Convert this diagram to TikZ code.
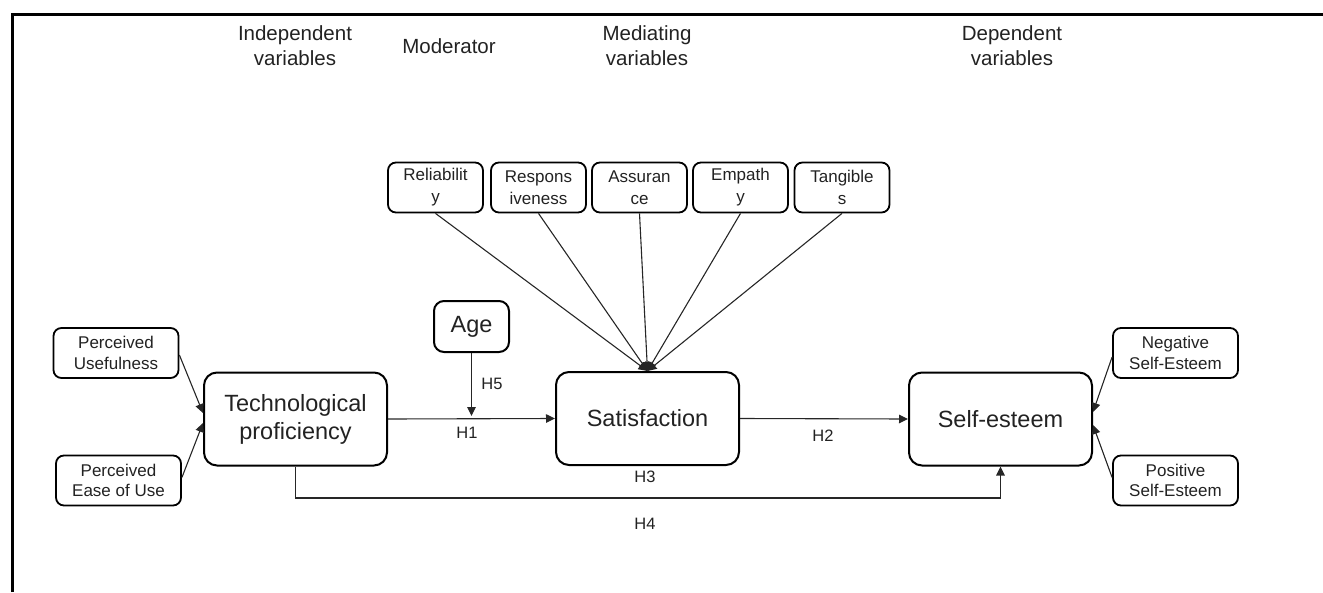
\documentclass[tikz,border=0pt]{standalone}
\usepackage{fontspec}
\setmainfont{Liberation Sans}
\usetikzlibrary{arrows.meta}
\definecolor{txt}{HTML}{222222}
\tikzset{
  big/.style={draw, line width=2pt, rounded corners=13pt, minimum width=183pt, minimum height=93pt, inner sep=0pt, align=center, text=txt, font=\fontsize{23.5}{28}\selectfont},
  small/.style={draw, line width=1.8pt, rounded corners=8pt, minimum width=125pt, minimum height=50pt, inner sep=0pt, align=center, text=txt, font=\fontsize{17}{20.4}\selectfont},
  qual/.style={draw, line width=1.8pt, rounded corners=8pt, minimum width=95pt, minimum height=50pt, inner sep=0pt, align=center, text=txt, font=\fontsize{17}{22}\selectfont},
  head/.style={align=center, text=txt, font=\fontsize{20.5}{25}\selectfont, inner sep=0pt},
  hlab/.style={text=txt, font=\fontsize{16.5}{20}\selectfont, inner sep=0pt},
  conn/.style={line width=1.1pt, draw=black!85},
  arr/.style={conn, -{Triangle[length=9pt,width=8.5pt]}},
}
\begin{document}
\begin{tikzpicture}[x=1pt,y=-1pt]
\useasboundingbox (0,0) rectangle (1323,592);
% frame (left and top only)
\draw[line width=3pt] (12.5,592) -- (12.5,14) -- (1323,14);

% headings
\node[head] (hind) at (295,46) {Independent\\variables};
\node[head] (hmod) at (449,46) {Moderator};
\node[head] (hmed) at (647,46) {Mediating\\variables};
\node[head] (hdep) at (1012,46) {Dependent\\variables};

% quality boxes
\node[qual] (rel) at (435.5,187.5) {Reliabilit\\y};
\node[qual] (res) at (538.5,187.5) {Respons\\iveness};
\node[qual] (ass) at (639.5,187.5) {Assuran\\ce};
\node[qual] (emp) at (740.5,187.5) {Empath\\y};
\node[qual] (tan) at (842,187.5) {Tangible\\s};

% main boxes
\node[big] (tp) at (295.5,419) {Technological\\proficiency};
\node[big] (sat) at (647.5,418.5) {Satisfaction};
\node[big] (se) at (1000.5,419) {Self-esteem};
\node[draw, line width=2pt, rounded corners=10pt, minimum width=75pt, minimum height=51pt, inner sep=0pt, text=txt, font=\fontsize{23.5}{28}\selectfont] (age) at (471.5,326.5) {Age};

% side boxes
\node[small] (pu) at (116,353) {Perceived\\Usefulness};
\node[small] (peu) at (118.5,480.5) {Perceived\\Ease of Use};
\node[small] (nse) at (1175.5,353) {Negative\\Self-Esteem};
\node[small] (pse) at (1175.5,480.5) {Positive\\Self-Esteem};

% quality -> satisfaction
\foreach \q in {rel,res,ass,emp,tan}
  \draw[arr] (\q.south) -- (sat.north);

% side arrows
\draw[arr] ([yshift=-2pt]pu.east) -- ([yshift=6pt]tp.west);
\draw[arr] ([yshift=3pt]peu.east) -- ([yshift=-4pt]tp.west);
\draw[arr] ([yshift=-4pt]nse.west) -- ([yshift=7pt]se.east);
\draw[arr] ([yshift=3pt]pse.west) -- ([yshift=-6pt]se.east);

% main arrows
\draw[arr] (tp.east) -- (sat.west);
\draw[arr] (sat.east) -- (se.west);
\coordinate (h1m) at (471.5,416);
\draw[arr] (age.south) -- (h1m);
\coordinate (h4y) at (0,498);
\draw[arr] (tp.south) -- (tp.south |- h4y) -| (se.south);

% labels
\node[hlab] (h5) at (492,384) {H5};
\node[hlab] (h1) at (467,433) {H1};
\node[hlab] (h2) at (823,436) {H2};
\node[hlab] (h3) at (645,477) {H3};
\node[hlab] (h4) at (645,524) {H4};
\end{tikzpicture}
\end{document}
